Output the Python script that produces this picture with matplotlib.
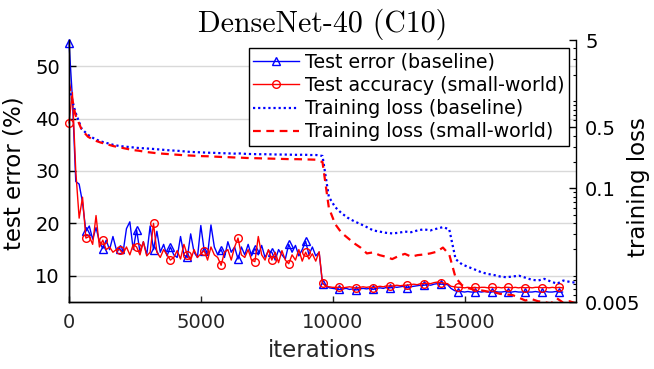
import numpy as np
import matplotlib
matplotlib.use("Agg")
import matplotlib.pyplot as plt
from matplotlib.ticker import FixedLocator, LogLocator, NullFormatter, FuncFormatter

# ---- data ----
TEST_STEP = 128     # test error sampled every 128 iterations
LOSS_STEP = 240     # training loss sampled every 240 iterations

test_err_base = [
    54.5, 44.0, 28.0, 27.5, 24.0, 18.5, 19.5, 17.0, 19.2, 16.5,
    15.2, 16.8, 15.0, 17.5, 15.0, 15.2, 14.5, 19.0, 20.3, 15.0,
    18.8, 14.5, 16.5, 14.0, 19.5, 15.0, 18.5, 14.5, 16.0, 13.8,
    15.5, 14.0, 13.5, 17.5, 14.0, 13.5, 18.0, 14.5, 13.5, 19.6,
    14.8, 14.0, 19.7, 15.5, 14.0, 15.0, 13.5, 16.5, 14.5, 15.5,
    13.2, 15.5, 14.0, 16.0, 13.8, 15.2, 14.0, 15.8, 13.5, 14.8,
    14.5, 13.0, 15.0, 14.0, 13.2, 16.0, 14.5, 15.8, 13.8, 15.0,
    16.6, 14.0, 15.5, 13.8, 14.5, 8.5,
    8.2, 7.7, 7.6, 7.5, 7.4, 7.5, 7.6, 7.4, 7.5, 7.3,
    7.5, 7.6, 7.5, 7.6, 7.4, 7.6, 7.7, 7.6, 7.8, 7.7,
    7.9, 7.8, 7.9, 8.0, 7.7, 7.9, 8.0, 8.1, 8.2, 8.2,
    8.3, 8.2, 8.4, 8.5, 8.4, 8.4, 8.3, 7.6, 7.2, 7.0,
    7.0, 6.9, 7.0, 6.9, 6.9, 7.0, 6.9, 7.0, 6.9, 6.9,
    7.0, 6.9, 6.9, 7.0, 6.9, 6.9, 7.0, 6.9, 6.9, 7.0,
    6.9, 6.9, 7.0, 6.9, 6.9, 7.0, 6.9, 6.9, 7.0, 6.9,
    6.9,
]
test_acc_sw = [
    39.2, 45.0, 30.0, 21.0, 25.0, 17.2, 17.5, 16.0, 21.5, 15.5,
    16.8, 15.0, 15.5, 14.5, 15.0, 15.0, 14.2, 15.5, 14.0, 16.0,
    15.5, 14.0, 16.5, 13.8, 14.5, 20.0, 14.5, 13.5, 15.0, 14.0,
    13.0, 13.5, 14.8, 13.2, 16.0, 14.0, 13.0, 15.0, 13.5, 14.2,
    14.8, 13.0, 15.5, 14.0, 13.5, 12.0, 14.5, 15.0, 13.0, 15.5,
    17.2, 14.0, 13.5, 15.0, 13.0, 12.7, 17.5, 14.0, 13.0, 15.0,
    13.0, 14.5, 12.5, 14.8, 13.0, 12.3, 14.0, 13.0, 15.0, 12.8,
    14.5, 13.2, 14.2, 12.8, 14.6, 8.6,
    8.0, 7.9, 7.8, 7.8, 7.8, 7.7, 7.8, 7.9, 7.8, 7.6,
    7.8, 7.9, 7.8, 7.9, 7.7, 7.9, 8.0, 7.9, 8.1, 8.0,
    8.1, 8.2, 8.1, 8.2, 8.2, 8.3, 8.4, 8.3, 8.5, 8.5,
    8.6, 8.5, 8.7, 8.8, 8.7, 8.6, 8.5, 8.0, 7.9, 7.8,
    7.8, 7.7, 7.8, 7.7, 7.8, 7.7, 7.8, 7.8, 7.7, 7.8,
    7.7, 7.8, 7.7, 7.8, 7.8, 7.7, 7.8, 7.7, 7.8, 7.7,
    7.8, 7.7, 7.8, 7.8, 7.7, 7.8, 7.7, 7.8, 7.7, 7.8,
    7.7,
]
train_loss_base = [
    1.4, 0.75, 0.48, 0.41, 0.37, 0.345, 0.33, 0.315, 0.305, 0.30,
    0.295, 0.29, 0.287, 0.284, 0.28, 0.276, 0.272, 0.27, 0.266, 0.262,
    0.26, 0.258, 0.256, 0.255, 0.253, 0.252, 0.25, 0.251, 0.248, 0.247,
    0.246, 0.246, 0.245, 0.244, 0.244, 0.243, 0.242, 0.243, 0.241, 0.241,
    0.235, 0.08, 0.061, 0.052, 0.046, 0.042, 0.039, 0.036, 0.033, 0.032,
    0.031, 0.0305, 0.031, 0.032, 0.0315, 0.033, 0.034, 0.033, 0.0345, 0.036,
    0.034, 0.0155, 0.0135, 0.0126, 0.0118, 0.011, 0.0105, 0.0102, 0.0098, 0.0096,
    0.0098, 0.0100, 0.0095, 0.009, 0.0088, 0.0092, 0.0086, 0.0081, 0.0088, 0.0085,
    0.0083,
]
train_loss_sw = [
    1.6, 0.7, 0.47, 0.39, 0.355, 0.335, 0.32, 0.305, 0.295, 0.285,
    0.275, 0.27, 0.262, 0.257, 0.252, 0.249, 0.246, 0.243, 0.24, 0.238,
    0.236, 0.234, 0.233, 0.231, 0.229, 0.228, 0.226, 0.225, 0.223, 0.222,
    0.221, 0.22, 0.219, 0.218, 0.217, 0.216, 0.216, 0.215, 0.214, 0.213,
    0.2, 0.06, 0.039, 0.031, 0.027, 0.0235, 0.021, 0.018, 0.0185, 0.0172,
    0.0165, 0.0155, 0.0168, 0.0178, 0.0165, 0.0172, 0.0175, 0.018, 0.0188, 0.021,
    0.0175, 0.0095, 0.0078, 0.0072, 0.0069, 0.0068, 0.0066, 0.0065, 0.0062, 0.0061,
    0.006, 0.0056, 0.0052, 0.0054, 0.0051, 0.005, 0.0048, 0.0055, 0.0049, 0.0051,
    0.0048,
]
x_ticks = [0, 5000, 10000, 15000]
left_ticks = [10, 20, 30, 40, 50]
right_ticks = [0.005, 0.1, 0.5, 5]

it_test = np.arange(len(test_err_base)) * TEST_STEP
it_loss = np.arange(len(train_loss_base)) * LOSS_STEP

BLUE, RED = "#0000ff", "#ff0000"

fig = plt.figure(figsize=(6.54, 3.69), dpi=100)
ax = fig.add_axes([69/654, 1-302/369, 507/654, 262/369])
ax2 = ax.twinx()

l1, = ax.plot(it_test, test_err_base, color=BLUE, lw=1.0, marker="^", ms=5.5,
              mfc="none", mec=BLUE, mew=1.0, markevery=5, clip_on=False, zorder=3,
              label="Test error (baseline)")
l2, = ax.plot(it_test, test_acc_sw, color=RED, lw=1.0, marker="o", ms=5.5,
              mfc="none", mec=RED, mew=1.0, markevery=5, clip_on=False, zorder=4,
              label="Test accuracy (small-world)")
l3, = ax2.plot(it_loss, train_loss_base, color=BLUE, lw=1.6, ls=(0, (1, 1.3)),
               label="Training loss (baseline)")
l4, = ax2.plot(it_loss, train_loss_sw, color=RED, lw=1.6, ls=(0, (3.5, 2.5)),
               label="Training loss (small-world)")

ax.set_xlim(0, 19200)
ax.set_ylim(5, 55)
ax2.set_yscale("log")
ax2.set_ylim(0.005, 5)

ax.set_xticks(x_ticks)
ax.set_yticks(left_ticks)
ax.yaxis.grid(True, color="#d9d9d9", lw=1.0)
ax.set_axisbelow(True)
ax2.yaxis.set_major_locator(FixedLocator(right_ticks))
ax2.yaxis.set_major_formatter(FuncFormatter(lambda v, p: f"{v:g}"))
ax2.yaxis.set_minor_locator(LogLocator(base=10, subs=np.arange(1, 10)))
ax2.yaxis.set_minor_formatter(NullFormatter())

for a in (ax, ax2):
    a.spines["top"].set_visible(False)
    for s in a.spines.values():
        s.set_linewidth(1.0)
ax.spines["right"].set_visible(False)
ax.tick_params(axis="y", direction="in", length=5, width=1.0, labelsize=14, pad=6.5)
ax.tick_params(axis="x", direction="in", length=4, width=1.0, labelsize=14, pad=8,
               labelcolor="#262626", color="#262626")
ax2.tick_params(axis="y", which="major", direction="in", length=5, width=1.0,
                labelsize=14, pad=6.5)
ax2.tick_params(axis="y", which="minor", direction="in", length=2.5, width=0.8)

ax.set_xlabel("iterations", fontsize=16.5, color="#262626", labelpad=5)
ax.set_ylabel("test error (%)", fontsize=16.5)
ax.yaxis.set_label_coords(-0.085, 0.49)
ax2.set_ylabel("training loss", fontsize=16.5)
ax2.yaxis.set_label_coords(1.10, 0.44)

ax.set_title("DenseNet-40 (C10)", family="cmr10", fontsize=21.5, pad=3)

leg = ax2.legend(handles=[l1, l2, l3, l4], loc="upper right",
                 bbox_to_anchor=(0.986, 0.969), borderaxespad=0, fontsize=13.7,
                 frameon=True, fancybox=False, framealpha=1, edgecolor="black",
                 handlelength=2.4, handletextpad=0.3, labelspacing=0.22,
                 borderpad=0.25, numpoints=1)
leg.get_frame().set_linewidth(1.0)

fig.savefig("out.png", dpi=100)
